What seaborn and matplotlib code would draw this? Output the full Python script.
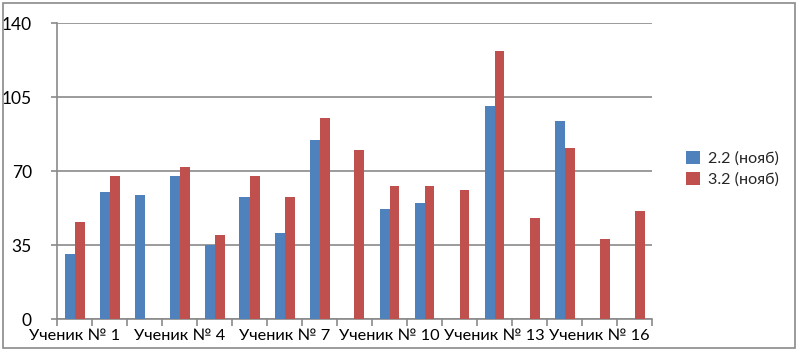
import numpy as np
import pandas as pd
import matplotlib
matplotlib.use("Agg")
import matplotlib.pyplot as plt
import seaborn as sns
from matplotlib.patches import Rectangle

students = [f"Ученик № {i}" for i in range(1, 18)]
series_names = ["2.2 (нояб)", "3.2 (нояб)"]
s1 = [31, 60, 59, 68, 35, 58, 41, 85, np.nan, 52, 55, np.nan, 101, np.nan, 94, np.nan, np.nan]
s2 = [46, 68, np.nan, 72, 40, 68, 58, 95, 80, 63, 63, 61, 127, 48, 81, 38, 51]
yticks = [0, 35, 70, 105, 140]
label_every = 3

rows = []
for st, a, b in zip(students, s1, s2):
    rows.append((st, series_names[0], a))
    rows.append((st, series_names[1], b))
df = pd.DataFrame(rows, columns=["student", "series", "value"]).dropna()

sns.set_theme(style="white")
plt.rcParams['font.family'] = ['Lato', 'DejaVu Sans']

fig = plt.figure(figsize=(8, 3.55), dpi=100)
ax = fig.add_axes([57/800, 1-319.3/355, (652-57)/800, (319.3-23.3)/355])

sns.barplot(data=df, x="student", y="value", hue="series", order=students,
            hue_order=series_names, palette=["#4F81BD", "#C0504D"],
            width=20/35, ax=ax, errorbar=None, saturation=1, linewidth=0, zorder=3)

ax.set_ylim(0, 140)
ax.set_xlim(-0.5, len(students) - 0.5)
ax.set_yticks(yticks)
ax.yaxis.grid(True, color="#8a8a8a", linewidth=1.2, zorder=0)
ax.set_axisbelow(True)
ax.set_xlabel("")
ax.set_ylabel("")

# x ticks at category boundaries, labels at every 3rd category
ax.set_xticks(np.arange(-0.5, len(students), 1))
ax.set_xticklabels([])
ax.set_xticks(np.arange(0, len(students), label_every), minor=True)
ax.set_xticklabels([students[i] for i in range(0, len(students), label_every)], minor=True)
ax.tick_params(axis="x", which="major", bottom=True, length=5, width=1.2, color="#8a8a8a", direction="out")
ax.tick_params(axis="x", which="minor", bottom=False, length=0, labelsize=11.8, pad=7, labelcolor="black")
ax.tick_params(axis="y", left=True, length=4, width=1.2, color="#8a8a8a", labelsize=12.5, pad=14, labelcolor="black")

for s in ["top", "right"]:
    ax.spines[s].set_visible(False)
for s in ["left", "bottom"]:
    ax.spines[s].set_color("#8a8a8a")
    ax.spines[s].set_linewidth(1.2)

leg = ax.legend(loc="center left", bbox_to_anchor=(1.0, 0.5), bbox_transform=ax.transAxes,
                frameon=False, fontsize=11.6, handlelength=0.85, handleheight=0.85,
                handletextpad=0.5, labelspacing=0.35, borderaxespad=0, borderpad=0, title=None)
leg.set_bbox_to_anchor((686/800, 1-169/355), transform=fig.transFigure)

fig.patches.append(Rectangle((3/800, 1-348/355), (795-3)/800, (348-3)/355,
                             transform=fig.transFigure, fill=False,
                             edgecolor="#8a8a8a", linewidth=1.2))

fig.savefig("out.png", dpi=100)
